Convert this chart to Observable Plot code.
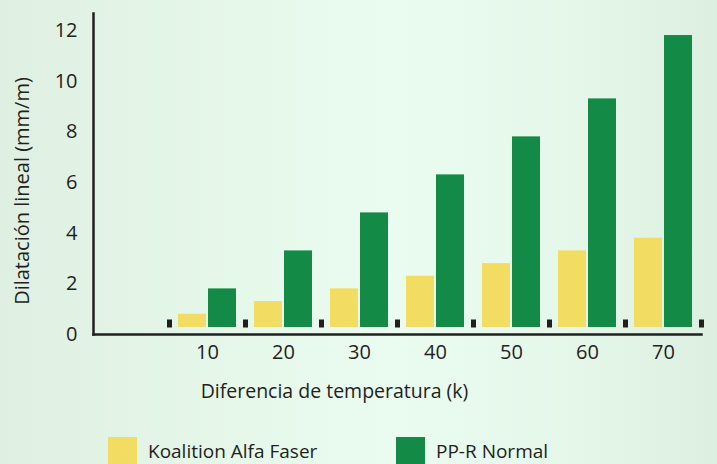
<!DOCTYPE html>
<html>
<head>
<meta charset="utf-8">
<script src="https://cdn.jsdelivr.net/npm/d3@7"></script>
<script src="https://cdn.jsdelivr.net/npm/@observablehq/plot@0.6"></script>
<style>
html, body { margin: 0; padding: 0; }
body {
  position: relative;
  width: 717px; height: 464px; overflow: hidden;
  background: linear-gradient(90deg, #dff0e2 0%, #e6f8ea 35%, #eafcf0 55%, #e5f7e9 80%, #dcefe0 100%);
  font-family: "Open Sans", Lato, sans-serif;
  color: #231f20;
}
#chart svg { display: block; }
.item { position: absolute; top: 437px; display: flex; align-items: center; font-size: 19px; line-height: 29px; }
.sw { width: 29px; height: 29px; margin-right: 11px; }
</style>
</head>
<body>
<div id="chart"></div>
<div id="legend"></div>
<script>
const categories = ["", "10", "20", "30", "40", "50", "60", "70"];
const seriesNames = ["Koalition Alfa Faser", "PP-R Normal"];
const koalition = [null, 0.8, 1.3, 1.8, 2.3, 2.8, 3.3, 3.8];
const ppr = [null, 1.8, 3.3, 4.8, 6.3, 7.8, 9.3, 11.8];
const yTicks = [0, 2, 4, 6, 8, 10, 12];
const colors = ["#f2dd62", "#138a45"];
const xLabel = "Diferencia de temperatura (k)";
const yLabel = "Dilatación lineal (mm/m)";

const rows = [];
categories.forEach((c, i) => {
  rows.push({cat: c, series: seriesNames[0], value: koalition[i]});
  rows.push({cat: c, series: seriesNames[1], value: ppr[i]});
});
const markerCats = categories.filter(c => c !== "");
const lastCat = [categories[categories.length - 1]];
const ink = "#231f20";
const font = "'Open Sans', Lato, sans-serif";
const markerSymbol = {draw(ctx) { ctx.rect(-2.5, -15, 5, 8); }};

const chart = Plot.plot({
  width: 717,
  height: 410,
  marginLeft: 93,
  marginRight: 3,
  marginTop: 13,
  marginBottom: 76,
  style: {background: "transparent", fontFamily: font, fontSize: "20px", color: ink},
  fx: {domain: categories, paddingInner: 0, paddingOuter: 0.0855, align: 0, label: null},
  x: {domain: seriesNames, paddingInner: 0.067, paddingOuter: 0.3, axis: null},
  y: {domain: [0, 12.67], label: null},
  color: {domain: seriesNames, range: colors},
  marks: [
    Plot.barY(rows, {fx: "cat", x: "series", y: "value", fill: "series", insetBottom: 7}),
    Plot.dot(markerCats, {fx: d => d, frameAnchor: "bottom-left", symbol: markerSymbol, fill: ink, stroke: null}),
    Plot.dot(lastCat, {fx: d => d, frameAnchor: "bottom-right", symbol: markerSymbol, fill: ink, stroke: null}),
    Plot.axisY({ticks: yTicks, tickSize: 0, tickPadding: 16, label: null, fontSize: 20}),
    Plot.axisFx({anchor: "bottom", tickSize: 0, tickPadding: 10, label: null, fontSize: 20}),
    Plot.frame({anchor: "left", facet: "super", stroke: ink, strokeWidth: 2.5}),
    Plot.frame({anchor: "bottom", facet: "super", stroke: ink, strokeWidth: 2.5}),
    Plot.text([xLabel], {text: d => d, frameAnchor: "bottom", facet: "super", textAnchor: "middle", lineAnchor: "middle", dx: -63, dy: 57, fontSize: 19.5, fill: ink}),
    Plot.text([yLabel], {text: d => d, frameAnchor: "left", rotate: -90, facet: "super", textAnchor: "middle", lineAnchor: "middle", dx: -71, dy: 17, fontSize: 20, fill: ink})
  ]
});
document.getElementById("chart").append(chart);

const legend = document.getElementById("legend");
const lefts = [108, 396];
seriesNames.forEach((s, i) => {
  const item = document.createElement("div");
  item.className = "item";
  item.style.left = lefts[i] + "px";
  const sw = document.createElement("div");
  sw.className = "sw";
  sw.style.background = colors[i];
  const t = document.createElement("span");
  t.textContent = s;
  item.append(sw, t);
  legend.append(item);
});
</script>
</body>
</html>
